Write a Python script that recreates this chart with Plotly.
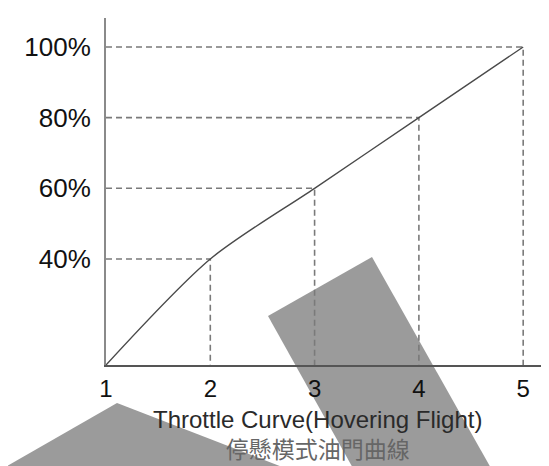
import plotly.graph_objects as go

# throttle curve points (stick position 1..5 -> throttle %)
points = [1, 2, 3, 4, 5]
throttle = [10, 40, 60, 80, 100]
point_labels = ["1", "2", "3", "4", "5"]
pct_ticks = [40, 60, 80, 100]
pct_labels = ["40%", "60%", "80%", "100%"]

title_en = "Throttle Curve(Hovering Flight)"
title_zh = "停懸模式油門曲線"

# the page body has an 8px margin, so the figure is drawn 8px in from the corner
OFF = 8
W, H = 549 - OFF, 466 - OFF
M = dict(l=106 - OFF, r=6, t=18 - OFF, b=101)
PW = W - M["l"] - M["r"]
PH = H - M["t"] - M["b"]


def px(x, y):
    """page pixel position -> paper coords (for the decorations only)"""
    x, y = x - OFF, y - OFF
    return (x - M["l"]) / PW, (H - M["b"] - y) / PH


def poly(pts):
    out = []
    for i, (x, y) in enumerate(pts):
        u, v = px(x, y)
        out.append(("M" if i == 0 else "L") + f"{u:.4f},{v:.4f}")
    return " ".join(out) + " Z"


y_floor = throttle[0]

# dashed guide lines: from y axis over to the point, then down to x axis
gx, gy = [], []
for x, y in zip(points[1:], throttle[1:]):
    gx += [points[0], x, x, None]
    gy += [y, y, y_floor, None]

fig = go.Figure()
fig.add_trace(go.Scatter(
    x=gx, y=gy, mode="lines",
    line=dict(color="#7a7a7a", width=1.6, dash="6px,4px"),
    hoverinfo="skip", showlegend=False,
))
fig.add_trace(go.Scatter(
    x=points, y=throttle, mode="lines",
    line=dict(color="#4a4a4a", width=1.4, shape="spline", smoothing=0.8),
    showlegend=False,
))

grey = "#9b9b9b"
fig.add_shape(type="path", xref="paper", yref="paper", layer="below",
              path=poly([(268, 316), (372, 257), (492, 470), (354, 470)]),
              fillcolor=grey, line=dict(width=0))
fig.add_shape(type="path", xref="paper", yref="paper", layer="below",
              path=poly([(0, 470), (117, 403), (290, 470)]),
              fillcolor=grey, line=dict(width=0))

# two-line caption under the x axis
caption = (
    f"<span style='font-size:24px;color:#2a2a2a'>{title_en}</span><br>"
    f"<span style='font-family:\"Noto Sans CJK TC\";color:#666666'>{title_zh}</span>"
)
u, v = px(317, 435)
fig.add_annotation(x=u, y=v, xref="paper", yref="paper", text=caption,
                   xanchor="center", yanchor="middle", showarrow=False,
                   font=dict(size=23, color="#2a2a2a",
                             family="Liberation Sans, Arial"))

fig.update_layout(
    width=W, height=H,
    margin=M,
    paper_bgcolor="white",
    plot_bgcolor="white",
    font=dict(family="Liberation Sans, Arial", color="#111111"),
    xaxis=dict(
        range=[1, 5.19], tickvals=points, ticktext=point_labels,
        showgrid=False, zeroline=False, showline=True,
        linecolor="#555555", linewidth=1.5,
        ticks="", ticklabelstandoff=1,
        tickfont=dict(size=24, color="#111111"),
    ),
    yaxis=dict(
        range=[y_floor, 108.2], tickvals=pct_ticks, ticktext=pct_labels,
        showgrid=False, zeroline=False, showline=True,
        linecolor="#8a8a8a", linewidth=2,
        ticks="", ticklabelstandoff=8,
        tickfont=dict(size=26, color="#111111"),
    ),
)

fig.write_html("out.html")
